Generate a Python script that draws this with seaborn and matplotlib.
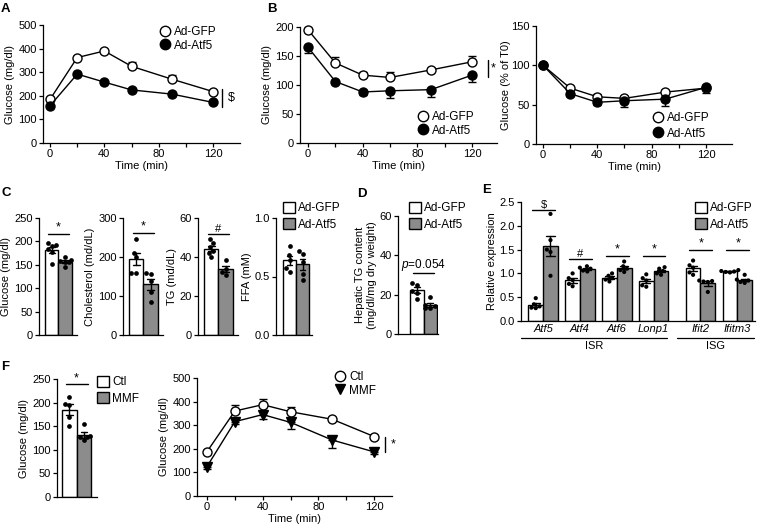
import numpy as np
import pandas as pd
import matplotlib
matplotlib.use("Agg")
import matplotlib.pyplot as plt
import matplotlib.transforms as mtransforms
from matplotlib.lines import Line2D
from matplotlib.patches import Patch
import seaborn as sns

W, H = 764, 526

# ---------------- DATA ----------------
time = [0, 20, 40, 60, 90, 120]

# A: glucose tolerance
a_gfp = [185, 362, 390, 325, 270, 218]
a_gfp_err = [5, 8, 8, 20, 20, 8]
a_atf5 = [158, 292, 258, 225, 207, 172]
a_atf5_err = [5, 6, 6, 6, 6, 6]

# B: insulin tolerance, absolute
b_gfp = [195, 138, 117, 113, 126, 140]
b_gfp_err = [3, 10, 5, 9, 4, 10]
b_atf5 = [165, 106, 88, 90, 92, 117]
b_atf5_err = [10, 5, 5, 12, 12, 12]

# B: insulin tolerance, % of T0
b2_gfp = [100, 71, 60, 58, 66, 71]
b2_gfp_err = [0, 3, 3, 3, 3, 3]
b2_atf5 = [100, 64, 53, 55, 57, 72]
b2_atf5_err = [0, 3, 3, 8, 9, 7]

# C: serum parameters (individual animals)
c_glu_gfp = [196, 193, 190, 184, 178, 151]
c_glu_atf5 = [167, 160, 158, 157, 155, 145]
c_chol_gfp = [245, 210, 200, 160, 160]
c_chol_atf5 = [160, 157, 138, 110, 85]
c_tg_gfp = [49, 47, 45, 43, 42, 40]
c_tg_atf5 = [38.5, 34, 32.5, 31]
c_ffa_gfp = [0.76, 0.68, 0.64, 0.57, 0.54]
c_ffa_atf5 = [0.72, 0.69, 0.62, 0.52, 0.47]

# D: hepatic TG
d_gfp = [26, 25, 22, 21, 18]
d_atf5 = [19, 15, 14, 13, 13]

# E: relative expression
genes = ["Atf5", "Atf4", "Atf6", "Lonp1", "Ifit2", "Ifitm3"]
e_gfp = [
    [0.48, 0.35, 0.31, 0.28, 0.27],
    [1.0, 0.9, 0.86, 0.78, 0.73],
    [1.0, 0.95, 0.9, 0.87, 0.83],
    [0.98, 0.9, 0.85, 0.75, 0.72],
    [1.27, 1.17, 1.12, 1.02, 0.97],
    [1.07, 1.05, 1.04, 1.03, 1.02],
]
e_atf5 = [
    [2.25, 1.7, 1.5, 1.45, 0.95],
    [1.15, 1.12, 1.1, 1.06, 1.04],
    [1.25, 1.15, 1.1, 1.07, 1.03],
    [1.13, 1.1, 1.05, 1.0, 0.97],
    [0.85, 0.84, 0.83, 0.82, 0.61],
    [0.97, 0.87, 0.85, 0.82, 0.8],
]
e_sig = ["$", "#", "*", "*", "*", "*"]
e_sig_y = [2.33, 1.3, 1.37, 1.37, 1.5, 1.5]

# F: MMF
f_ctl = [212, 198, 195, 170, 150]
f_mmf = [155, 130, 128, 127, 120]
f_gtt_ctl = [188, 360, 387, 357, 325, 252]
f_gtt_ctl_err = [5, 25, 25, 22, 8, 8]
f_gtt_mmf = [125, 315, 345, 312, 237, 187]
f_gtt_mmf_err = [10, 10, 20, 28, 32, 8]

GFP, ATF5 = "Ad-GFP", "Ad-Atf5"
WHITE, GRAY = "white", "#8c8c8c"

# ---------------- STYLE ----------------
sns.set_style("ticks")
plt.rcParams["font.family"] = ["Liberation Sans", "DejaVu Sans"]
plt.rcParams.update({
    "axes.linewidth": 0.9,
    "axes.edgecolor": "k",
    "axes.labelcolor": "k",
    "text.color": "k",
    "xtick.color": "k",
    "ytick.color": "k",
    "xtick.major.width": 0.9,
    "ytick.major.width": 0.9,
    "xtick.major.size": 3,
    "ytick.major.size": 3,
    "xtick.labelsize": 8,
    "ytick.labelsize": 8,
    "axes.labelsize": 8,
    "xtick.major.pad": 1.5,
    "ytick.major.pad": 1.5,
    "axes.labelpad": 2,
    "axes.spines.top": False,
    "axes.spines.right": False,
    "mathtext.fontset": "custom",
    "mathtext.it": "Liberation Sans:italic",
    "mathtext.rm": "Liberation Sans",
})

fig = plt.figure(figsize=(W / 100, H / 100), dpi=100)


def add_ax(l, t, r, b):
    ax = fig.add_axes([l / W, 1 - b / H, (r - l) / W, (b - t) / H])
    # transparent so labels of a neighbour panel are not covered
    ax.set_facecolor("none")
    return ax


def legend_at(ax, handles, labels, x, y, spacing=0.35):
    ax.legend(handles, labels, loc="upper left", bbox_to_anchor=(x / W, 1 - y / H),
              bbox_transform=fig.transFigure, frameon=False, fontsize=8.5,
              borderpad=0, borderaxespad=0, handletextpad=0.3, labelspacing=spacing,
              handlelength=1.0, handleheight=1.0)


def circle(face, marker="o"):
    return Line2D([], [], marker=marker, ls="none", ms=7.5, mfc=face, mec="k", mew=1)


def square(face):
    return Patch(facecolor=face, edgecolor="k", linewidth=1)


def line_panel(ax, y1, e1, y2, e2, xlim, ylim, yticks, ylabel, m2="o", labelpad=2):
    ax.errorbar(time, y1, yerr=[[0] * len(e1), e1], fmt="none", ecolor="k",
                elinewidth=1, capsize=3, capthick=1, zorder=2)
    ax.errorbar(time, y2, yerr=[e2, [0] * len(e2)], fmt="none", ecolor="k",
                elinewidth=1, capsize=3, capthick=1, zorder=2)
    sns.lineplot(x=time, y=y1, color="k", linewidth=1, marker="o", markersize=6.5,
                 markerfacecolor="white", markeredgecolor="k", markeredgewidth=1,
                 errorbar=None, zorder=3, clip_on=False, ax=ax)
    sns.lineplot(x=time, y=y2, color="k", linewidth=1, marker=m2,
                 markersize=7 if m2 == "v" else 6.5,
                 markerfacecolor="k", markeredgecolor="k", markeredgewidth=1,
                 errorbar=None, zorder=4, clip_on=False, ax=ax)
    ax.set_xlim(*xlim)
    ax.set_ylim(*ylim)
    ax.set_xticks([0, 20, 40, 60, 80, 100, 120])
    ax.set_xticklabels(["0", "", "40", "", "80", "", "120"])
    ax.set_yticks(yticks)
    ax.set_xlabel("Time (min)", labelpad=1)
    ax.set_ylabel(ylabel, labelpad=labelpad)


def sig_vline(ax, x, y1, y2, label, dx=4):
    ax.plot([x, x], [y1, y2], color="k", lw=1, clip_on=False)
    ax.text(x + dx, (y1 + y2) / 2, label, fontsize=9, ha="left", va="center", zorder=10)


def bar_panel(ax, pts_a, pts_b, names, ylim, yticks, ylabel, xlim=(-0.95, 1.88)):
    df = pd.DataFrame({"group": [names[0]] * len(pts_a) + [names[1]] * len(pts_b),
                       "value": pts_a + pts_b})
    sns.barplot(data=df, x="group", y="value", hue="group", order=names, hue_order=names,
                palette={names[0]: WHITE, names[1]: GRAY}, width=1, errorbar="se",
                capsize=0.45, edgecolor="k", linewidth=1,
                err_kws={"color": "k", "linewidth": 1}, legend=False, ax=ax)
    sns.swarmplot(data=df, x="group", y="value", order=names, color="k", size=3.4, ax=ax)
    ax.set_xlim(*xlim)
    ax.set_ylim(*ylim)
    ax.set_yticks(yticks)
    ax.set_xticks([])
    ax.set_xlabel("")
    ax.set_ylabel(ylabel)


def sig_hline(ax, y, label, x1=-0.25, x2=1.25, size=9):
    ax.plot([x1, x2], [y, y], color="k", lw=1, clip_on=False)
    ax.text((x1 + x2) / 2, y, label, fontsize=size, ha="center", va="bottom")


# ---------------- A ----------------
ax = add_ax(43, 25, 240, 143)
line_panel(ax, a_gfp, a_gfp_err, a_atf5, a_atf5_err, (-5.2, 139.9), (0, 500),
           [0, 100, 200, 300, 400, 500], "Glucose (mg/dl)")
sig_vline(ax, 127, 229, 153, "$")
legend_at(ax, [circle("white"), circle("k")], [GFP, ATF5], 159, 26, spacing=0.1)

# ---------------- B left ----------------
ax = add_ax(300, 27, 497, 143)
line_panel(ax, b_gfp, b_gfp_err, b_atf5, b_atf5_err, (-5.9, 138.3), (0, 200),
           [0, 50, 100, 150, 200], "Glucose (mg/dl)")
sig_vline(ax, 131.5, 143, 114, "*", dx=2.5)
legend_at(ax, [circle("white"), circle("k")], [GFP, ATF5], 417, 111, spacing=0.1)

# ---------------- B right ----------------
ax = add_ax(536, 26, 732, 144)
line_panel(ax, b2_gfp, b2_gfp_err, b2_atf5, b2_atf5_err, (-5.2, 139.2), (0, 150),
           [0, 50, 100, 150], "Glucose (% of T0)", labelpad=0.5)
legend_at(ax, [circle("white"), circle("k")], [GFP, ATF5], 652, 112, spacing=0.25)

# ---------------- C ----------------
ax = add_ax(39, 218, 77, 335)
bar_panel(ax, c_glu_gfp, c_glu_atf5, [GFP, ATF5], (0, 250), [0, 50, 100, 150, 200, 250],
          "Glucose (mg/dl)")
sig_hline(ax, 216, "*")

ax = add_ax(123, 218, 163, 335)
bar_panel(ax, c_chol_gfp, c_chol_atf5, [GFP, ATF5], (0, 300), [0, 100, 200, 300],
          "Cholesterol (md/dL)")
sig_hline(ax, 262, "*")

ax = add_ax(198, 218, 238, 335)
bar_panel(ax, c_tg_gfp, c_tg_atf5, [GFP, ATF5], (0, 60), [0, 20, 40, 60], "TG (md/dL)")
sig_hline(ax, 51.8, "#", size=8)

ax = add_ax(276, 218, 312, 335)
bar_panel(ax, c_ffa_gfp, c_ffa_atf5, [GFP, ATF5], (0, 1.0), [0.0, 0.5, 1.0], "FFA (mM)",
          xlim=(-1.04, 1.73))
ax.set_yticklabels(["0.0", "0.5", "1.0"])
legend_at(ax, [square(WHITE), square(GRAY)], [GFP, ATF5], 283, 202)

# ---------------- D ----------------
ax = add_ax(398, 216, 438, 334)
bar_panel(ax, d_gfp, d_atf5, [GFP, ATF5], (0, 60), [0, 20, 40, 60],
          "Hepatic TG content\n(mg/dl/mg dry weight)", xlim=(-1.39, 1.57))
sig_hline(ax, 31, r"$\it{p}$=0.054", x1=-0.3, x2=1.3, size=8.5)
legend_at(ax, [square(WHITE), square(GRAY)], [GFP, ATF5], 409, 202)

# ---------------- E ----------------
positions = [i + (0.27 if i >= 4 else 0) for i in range(len(genes))]
rows = []
for pos, ga, gb in zip(positions, e_gfp, e_atf5):
    rows += [{"pos": pos, "group": GFP, "value": v} for v in ga]
    rows += [{"pos": pos, "group": ATF5, "value": v} for v in gb]
e_df = pd.DataFrame(rows)

ax = add_ax(521, 202, 755, 321)
sns.barplot(data=e_df, x="pos", y="value", hue="group", hue_order=[GFP, ATF5],
            palette={GFP: WHITE, ATF5: GRAY}, native_scale=True, width=0.8,
            errorbar="se", capsize=0.45, edgecolor="k", linewidth=1,
            err_kws={"color": "k", "linewidth": 1}, legend=False, ax=ax)
sns.swarmplot(data=e_df, x="pos", y="value", hue="group", hue_order=[GFP, ATF5],
              palette={GFP: "k", ATF5: "k"}, dodge=True, native_scale=True, size=3.0,
              legend=False, ax=ax)
ax.set_xlim(-0.6, 5.75)
ax.set_ylim(0, 2.5)
ax.set_yticks([0.0, 0.5, 1.0, 1.5, 2.0, 2.5])
ax.set_yticklabels(["0.0", "0.5", "1.0", "1.5", "2.0", "2.5"])
ax.set_xticks(positions)
ax.set_xticklabels(genes, fontstyle="italic")
ax.tick_params(axis="x", length=0, pad=2)
ax.set_xlabel("")
ax.set_ylabel("Relative expression")
for pos, s, y in zip(positions, e_sig, e_sig_y):
    sig_hline(ax, y, s, x1=pos - 0.3, x2=pos + 0.32, size=9 if s == "*" else 8)
trans = mtransforms.blended_transform_factory(ax.transData, ax.transAxes)
for x1, x2, lab in [(-0.6, 3.37, "ISR"), (3.63, 5.72, "ISG")]:
    ax.plot([x1, x2], [-0.14, -0.14], color="k", lw=0.9, transform=trans, clip_on=False)
    ax.text((x1 + x2) / 2, -0.165, lab, fontsize=8, ha="center", va="top", transform=trans)
legend_at(ax, [square(WHITE), square(GRAY)], [GFP, ATF5], 695, 202)

# ---------------- F left ----------------
ax = add_ax(57, 379, 97, 497)
bar_panel(ax, f_ctl, f_mmf, ["Ctl", "MMF"], (0, 250), [0, 50, 100, 150, 200, 250],
          "Glucose (mg/dl)", xlim=(-0.85, 1.9))
sig_hline(ax, 239, "*")
legend_at(ax, [square(WHITE), square(GRAY)], ["Ctl", "MMF"], 97, 376)

# ---------------- F right ----------------
ax = add_ax(197, 378, 392, 496)
line_panel(ax, f_gtt_ctl, f_gtt_ctl_err, f_gtt_mmf, f_gtt_mmf_err, (-7.2, 132.9), (0, 500),
           [0, 100, 200, 300, 400, 500], "Glucose (mg/dl)", m2="v")
sig_vline(ax, 128, 250, 186, "*")
legend_at(ax, [circle("white"), circle("k", "v")], ["Ctl", "MMF"], 334, 371, spacing=0.1)

# ---------------- panel letters ----------------
for lab, x, y in [("A", 1, 3), ("B", 267, 3), ("C", 1, 187), ("D", 357, 188),
                  ("E", 482, 184), ("F", 1, 361)]:
    fig.text(x / W, 1 - y / H, lab, fontsize=9.5, fontweight="bold", ha="left", va="top")

fig.savefig("out.png", dpi=100)
plt.close(fig)
